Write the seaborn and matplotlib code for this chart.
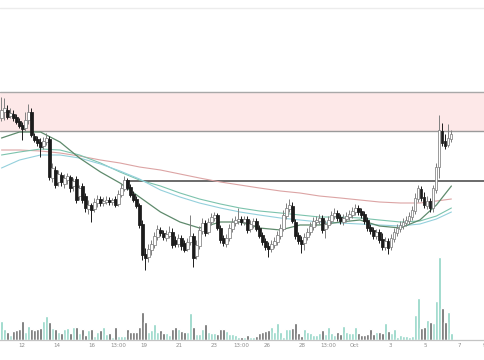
import matplotlib
matplotlib.use("Agg")
import matplotlib.pyplot as plt
import seaborn as sns
import pandas as pd
import numpy as np

# candles (4h), price in chart units
opens = [182, 188, 190, 184, 186, 183, 179, 175, 172, 180,
         188, 164, 161, 158, 154, 158, 161, 122, 130, 118,
         125, 116, 120, 123, 114, 121, 104, 114, 104, 91,
         95, 91, 97, 101, 97, 98, 100, 98, 101, 96,
         105, 111, 120, 113, 106, 101, 95, 76, 46, 43,
         50, 55, 63, 70, 67, 62, 64, 68, 60, 56,
         62, 57, 51, 58, 64, 44, 54, 69, 77, 68,
         78, 82, 85, 72, 62, 56, 62, 71, 77, 79,
         81, 78, 81, 71, 75, 79, 72, 65, 59, 54,
         51, 55, 58, 64, 71, 84, 91, 94, 78, 65,
         60, 57, 63, 68, 73, 78, 79, 82, 71, 75,
         79, 84, 87, 83, 78, 81, 83, 85, 88, 92,
         89, 86, 80, 73, 70, 64, 68, 61, 53, 59,
         53, 61, 67, 71, 74, 77, 79, 83, 89, 101,
         111, 103, 94, 99, 92, 110, 133, 169, 159, 155, 161]
highs = [203, 202, 195, 192, 190, 186, 182, 178, 188, 196,
         192, 167, 164, 162, 163, 167, 164, 137, 134, 130,
         128, 126, 127, 125, 122, 124, 115, 117, 107, 100,
         97, 102, 105, 104, 103, 104, 103, 102, 104, 110,
         117, 124, 122, 116, 109, 104, 97, 80, 52, 56,
         60, 68, 75, 73, 70, 70, 74, 72, 64, 66,
         65, 60, 62, 85, 67, 60, 74, 82, 80, 82,
         87, 88, 87, 75, 65, 66, 76, 82, 84, 92,
         84, 84, 84, 80, 82, 82, 75, 68, 62, 58,
         60, 63, 69, 76, 90, 97, 101, 98, 81, 68,
         64, 67, 72, 78, 83, 84, 86, 85, 80, 84,
         89, 92, 90, 86, 86, 88, 90, 93, 96, 95,
         92, 89, 83, 76, 73, 71, 71, 67, 63, 62,
         66, 72, 76, 79, 82, 84, 88, 94, 107, 115,
         114, 108, 104, 102, 115, 137, 185, 177, 166, 176, 170]
lows = [179, 180, 181, 182, 179, 176, 172, 160, 169, 176,
        163, 158, 154, 143, 151, 155, 120, 118, 112, 114,
        114, 112, 116, 108, 109, 97, 100, 97, 88, 86,
        78, 88, 93, 94, 94, 96, 95, 95, 93, 94,
        103, 109, 110, 103, 98, 92, 72, 40, 30, 38,
        45, 52, 60, 64, 60, 59, 62, 52, 53, 53,
        50, 48, 49, 55, 33, 41, 51, 66, 64, 66,
        75, 79, 70, 57, 54, 53, 59, 68, 74, 76,
        75, 75, 67, 68, 72, 69, 62, 55, 50, 43,
        48, 52, 55, 61, 69, 81, 88, 77, 61, 56,
        47, 50, 60, 65, 70, 74, 76, 67, 62, 72,
        76, 81, 79, 76, 75, 78, 80, 82, 85, 85,
        82, 76, 69, 66, 61, 61, 57, 50, 50, 46,
        50, 58, 64, 68, 71, 74, 76, 80, 86, 98,
        99, 92, 91, 88, 88, 107, 122, 154, 151, 153, 158]
closes = [190, 192, 183, 187, 182, 178, 174, 171, 180, 188,
          165, 160, 157, 153, 159, 162, 123, 132, 115, 126,
          118, 122, 124, 112, 119, 100, 112, 100, 92, 95,
          90, 98, 101, 97, 99, 100, 98, 100, 95, 106,
          112, 120, 112, 105, 100, 94, 75, 45, 42, 51,
          56, 64, 71, 67, 63, 66, 68, 55, 56, 62,
          54, 50, 58, 64, 42, 55, 70, 77, 67, 78,
          83, 85, 72, 60, 57, 62, 72, 78, 80, 81,
          78, 81, 70, 76, 79, 71, 64, 58, 53, 51,
          56, 59, 65, 72, 85, 92, 95, 79, 64, 59,
          56, 63, 68, 74, 79, 80, 82, 70, 76, 80,
          85, 87, 82, 79, 82, 84, 86, 89, 92, 88,
          85, 79, 72, 69, 64, 68, 60, 53, 59, 52,
          62, 68, 72, 75, 78, 80, 84, 90, 102, 112,
          102, 95, 99, 92, 112, 133, 170, 157, 154, 162, 166]
volume_k = [19, 11, 8, 5, 9, 10, 11, 19, 8, 14,
            11, 10, 11, 12, 19, 24, 18, 12, 11, 8,
            7, 11, 12, 7, 13, 13, 7, 11, 5, 10,
            11, 4, 8, 10, 13, 6, 7, 3, 13, 4,
            4, 4, 11, 8, 8, 8, 13, 28, 18, 8,
            10, 16, 8, 10, 7, 7, 5, 11, 13, 11,
            9, 8, 8, 27, 13, 6, 6, 11, 16, 8,
            7, 7, 6, 11, 11, 9, 6, 6, 5, 3,
            3, 3, 5, 3, 3, 4, 7, 8, 9, 10,
            13, 8, 17, 8, 3, 11, 11, 12, 17, 7,
            4, 11, 8, 7, 5, 5, 7, 10, 6, 13,
            7, 5, 8, 6, 14, 8, 7, 7, 13, 7,
            5, 5, 6, 11, 6, 8, 8, 7, 17, 9,
            7, 11, 3, 5, 4, 4, 3, 4, 25, 42,
            12, 13, 20, 18, 17, 39, 83, 32, 18, 28, 7]

# moving averages, read at sample bars
ma_bar = [0, 6, 13, 19.5, 26, 33, 39.5, 46, 53, 59.5, 66, 73,
          79.5, 86, 93, 99.5, 106, 113, 119.5, 126, 133, 139.5, 145, 150]
ma_slow = [150, 150, 149, 147, 144, 140, 137, 133, 130, 126, 122, 118,
           115, 112, 109, 107, 104, 102, 100, 98, 97, 97, 99, 101]
ma_mid1 = [145, 148, 151, 150, 145, 137, 128, 120, 114, 107, 101, 96,
           92, 89, 87, 85, 83, 83, 82, 80, 78, 79, 84, 92]
ma_mid2 = [132, 140, 145, 145, 142, 136, 129, 121, 110, 103, 97, 92,
           88, 85, 82, 80, 78, 77, 76, 75, 74, 76, 81, 88]
ma_fast = [162, 168, 168, 158, 142, 128, 117, 103, 88, 78, 72, 78,
           78, 72, 70, 75, 75, 78, 80, 74, 72, 80, 95, 114]

zone_top = 208
zone_bottom = 169
resistance = 119
resistance_from = 41.5
top_line = 292

tick_bars = [6.8, 18.5, 30.2, 38.8, 47.5, 59.2, 70.8, 79.8,
             88.5, 100.2, 108.8, 117.8, 129.5, 141.2, 152.8, 161]
tick_labels = ["12", "14", "16", "13:00", "19", "21", "23", "13:00",
               "26", "28", "13:00", "Oct", "3", "5", "7", "9"]

sns.set_style("white")
plt.rcParams['font.family'] = ['DejaVu Sans']

o = np.array(opens, float)
c = np.array(closes, float)
bars = np.arange(len(o))
up = c >= o

fig = plt.figure(figsize=(4.85, 3.6), dpi=100)
fig.patch.set_facecolor("white")
ax = fig.add_axes([0, 20 / 360, 1, 340 / 360])
ax2 = ax.twinx()

# volume at the bottom
vol = pd.DataFrame({"bar": bars, "volume": volume_k,
                    "side": np.where(up, "up", "down")})
sns.barplot(data=vol, x="bar", y="volume", hue="side", native_scale=True,
            palette={"up": "#8ed4c4", "down": "#686868"}, dodge=False,
            width=0.88, saturation=1, legend=False, ax=ax2)
ax2.set_ylim(0, 340)
ax2.set_ylabel("")
ax2.set_yticks([])

# supply zone and levels
ax.axhspan(zone_bottom, zone_top, color="#fde8e8", lw=0, zorder=0)
ax.axhline(zone_top, color="#a8a8a8", lw=1, zorder=1)
ax.axhline(zone_bottom, color="#9a9a9a", lw=1, zorder=1)
ax.axhline(top_line, color="#ececec", lw=1, zorder=1)
ax.hlines(resistance, resistance_from, 170, color="#6a6a6a", lw=1.4, zorder=1)

# moving averages
sns.lineplot(x=ma_bar, y=ma_slow, color="#dca4a4", lw=0.8, ax=ax, zorder=2)
sns.lineplot(x=ma_bar, y=ma_mid1, color="#7cc3ad", lw=0.8, ax=ax, zorder=2)
sns.lineplot(x=ma_bar, y=ma_mid2, color="#94d0dc", lw=0.8, ax=ax, zorder=2)
sns.lineplot(x=ma_bar, y=ma_fast, color="#5e8a6c", lw=0.9, ax=ax, zorder=2)

# candles
edge = np.where(up, "#808080", "#1c1c1c")
face = np.where(up, "#ffffff", "#1c1c1c")
ax.vlines(bars, lows, highs, colors=edge, lw=0.7, zorder=3)
body = np.maximum(np.abs(c - o), 0.8)
ax.bar(bars, body, bottom=np.minimum(o, c), width=0.72, color=face,
       edgecolor=edge, linewidth=0.55, zorder=4)

ax.set_zorder(ax2.get_zorder() + 1)
ax.patch.set_visible(False)

ax.set_xlim(-0.5, 161.2)
ax.set_ylim(-40, 300)
ax.set_yticks([])
ax.set_xticks(tick_bars)
ax.set_xticklabels(tick_labels)
ax.tick_params(axis="x", length=0, pad=2, labelsize=4, labelcolor="#8c8c8c")
ax.set_xlabel("")
ax.set_ylabel("")
for a in (ax, ax2):
    for s in ["top", "left", "right"]:
        a.spines[s].set_visible(False)
    a.spines["bottom"].set_color("#c4c4c4")
    a.spines["bottom"].set_linewidth(0.8)

fig.savefig("out.png", dpi=100, facecolor="white")
